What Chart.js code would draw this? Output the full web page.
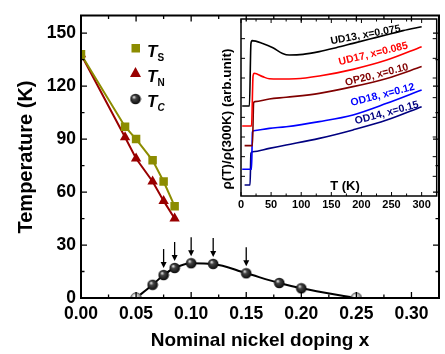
<!DOCTYPE html>
<html><head><meta charset="utf-8">
<script src="https://cdn.jsdelivr.net/npm/chart.js@4"></script>
<style>
html,body{margin:0;padding:0;background:#fff;}
#wrap{position:relative;width:445px;height:354px;}
#main{position:absolute;left:0;top:0;}
#inset{position:absolute;left:215px;top:10px;}
</style></head><body>
<div id="wrap"><canvas id="main" width="445" height="354"></canvas><canvas id="inset" width="225" height="205"></canvas></div>
<script>
// ---------- main chart data ----------
const dopingTs = [0, 0.04, 0.05, 0.065, 0.075, 0.085];
const tempTs   = [138, 97, 90, 78, 66, 52];
const dopingTN = [0, 0.04, 0.05, 0.065, 0.075, 0.085];
const tempTN   = [138, 91, 79, 66, 55, 45];
const dopingTc = [0.05, 0.065, 0.075, 0.085, 0.10, 0.12, 0.15, 0.18, 0.20, 0.25];
const tempTc   = [0, 7.5, 13, 17, 19.7, 19.3, 14, 8.5, 5.5, 0];
const openTc   = [true, false, false, false, false, false, false, false, false, true];
const arrowDoping = [0.075, 0.085, 0.10, 0.12, 0.15];
const xTicksMain = [0, 0.05, 0.10, 0.15, 0.20, 0.25, 0.30];
const xMinorMain = [0.025, 0.075, 0.125, 0.175, 0.225, 0.275];
const yTicksMain = [0, 30, 60, 90, 120, 150];
const yMinorMain = [15, 45, 75, 105, 135];

// ---------- inset data ----------
const T_UD13 = [2, 14, 16.5, 18.5, 36, 53, 69, 80, 103, 130, 158, 186, 214, 242, 269, 300];
const R_UD13 = [4.58, 4.58, 7.75, 7.9, 7.76, 7.54, 7.25, 7.17, 7.2, 7.34, 7.54, 7.76, 7.98, 8.2, 8.41, 8.61];
const T_UD17 = [2, 17.5, 20, 22, 36, 47, 64, 91, 130, 186, 242, 300];
const R_UD17 = [3.56, 3.56, 6.1, 6.24, 6.07, 5.96, 5.95, 5.96, 6.10, 6.44, 6.91, 7.59];
const T_OP20 = [6, 19, 21, 23, 47, 75, 130, 186, 242, 300];
const R_OP20 = [2.56, 2.56, 4.75, 4.8, 4.93, 5.02, 5.22, 5.56, 5.98, 6.58];
const T_OD18 = [2, 17.5, 19, 21, 47, 75, 130, 186, 242, 300];
const R_OD18 = [1.36, 1.36, 3.25, 3.32, 3.44, 3.52, 3.78, 4.12, 4.71, 5.39];
const T_OD14 = [6, 15, 16.5, 19.5, 47, 75, 130, 186, 242, 300];
const R_OD14 = [0.56, 0.56, 2.17, 2.25, 2.42, 2.59, 2.93, 3.36, 3.86, 4.54];
const xTicksInset = [0, 50, 100, 150, 200, 250, 300];
const xMinorInset = [25, 75, 125, 175, 225, 275];
const yTicksInset = [1, 2, 3, 4, 5, 6, 7, 8];
const insetLabels = ['UD13, x=0.075', 'UD17, x=0.085', 'OP20, x=0.10', 'OD18, x=0.12', 'OD14, x=0.15'];

const FONT = '"Liberation Sans", Arial, Helvetica, sans-serif';
const olive = '#8c8c00', darkred = '#990000';
const pts = (xs, ys) => xs.map((x, i) => ({x, y: ys[i]}));

function sphere(light) {
  const c = document.createElement('canvas'); c.width = c.height = 12;
  const g = c.getContext('2d');
  const grd = g.createRadialGradient(4.3, 4.0, 0.3, 6, 6, 6);
  if (light) { grd.addColorStop(0, '#ffffff'); grd.addColorStop(0.55, '#b0b0b0'); grd.addColorStop(1, '#606060'); }
  else { grd.addColorStop(0, '#e8e8e8'); grd.addColorStop(0.3, '#444'); grd.addColorStop(1, '#000'); }
  g.fillStyle = grd; g.beginPath(); g.arc(6, 6, 5.3, 0, 2 * Math.PI); g.fill();
  if (light) { g.strokeStyle = '#555'; g.lineWidth = 0.9; g.stroke(); }
  return c;
}
const sphDark = sphere(false), sphLight = sphere(true);

function frameTicks(chart, o) {
  const {ctx, chartArea: a, scales: {x, y}} = chart;
  ctx.save();
  ctx.strokeStyle = '#000';
  ctx.lineWidth = o.tickW;
  ctx.beginPath();
  const xt = (v, L) => { const p = x.getPixelForValue(v); ctx.moveTo(p, a.bottom); ctx.lineTo(p, a.bottom - L); ctx.moveTo(p, a.top); ctx.lineTo(p, a.top + L); };
  const yt = (v, L) => { const p = y.getPixelForValue(v); ctx.moveTo(a.left, p); ctx.lineTo(a.left + L, p); ctx.moveTo(a.right, p); ctx.lineTo(a.right - L, p); };
  o.xMajor.forEach(v => xt(v, o.maj)); o.xMinor.forEach(v => xt(v, o.min));
  o.yMajor.forEach(v => yt(v, o.maj)); o.yMinor.forEach(v => yt(v, o.min));
  ctx.stroke();
  ctx.lineWidth = o.frame;
  ctx.strokeRect(a.left, a.top, a.right - a.left, a.bottom - a.top);
  ctx.restore();
}

const mainDeco = {
  id: 'mainDeco',
  afterDraw(chart) {
    const {ctx, scales: {x, y}} = chart;
    frameTicks(chart, {tickW: 1.3, frame: 2, maj: 6, min: 3.5, xMajor: xTicksMain, xMinor: xMinorMain, yMajor: yTicksMain, yMinor: yMinorMain});
    ctx.save();
    // arrows
    ctx.strokeStyle = '#000'; ctx.fillStyle = '#000'; ctx.lineWidth = 1.3;
    arrowDoping.forEach(d => {
      const i = dopingTc.indexOf(d);
      const px = x.getPixelForValue(d), tip = y.getPixelForValue(tempTc[i]) - 7;
      ctx.beginPath(); ctx.moveTo(px, tip - 19); ctx.lineTo(px, tip - 4); ctx.stroke();
      ctx.beginPath(); ctx.moveTo(px - 3, tip - 6); ctx.lineTo(px + 3, tip - 6); ctx.lineTo(px, tip); ctx.closePath(); ctx.fill();
    });
    // axis titles
    ctx.fillStyle = '#000';
    ctx.font = 'bold 19px ' + FONT; ctx.textAlign = 'center'; ctx.textBaseline = 'middle';
    ctx.fillText('Nominal nickel doping x', 260, 341);
    ctx.save(); ctx.translate(26, 157); ctx.rotate(-Math.PI / 2);
    ctx.font = 'bold 20px ' + FONT; ctx.fillText('Temperature (K)', 0, 0); ctx.restore();
    // legend
    ctx.fillStyle = olive; ctx.fillRect(131.5, 44, 8.5, 8.5);
    ctx.fillStyle = darkred; ctx.beginPath(); ctx.moveTo(135.5, 67); ctx.lineTo(130, 77); ctx.lineTo(141, 77); ctx.closePath(); ctx.fill();
    ctx.drawImage(sphDark, 129.5, 93);
    ctx.fillStyle = '#000'; ctx.textAlign = 'left'; ctx.textBaseline = 'alphabetic';
    const subs = [['S', 57, false], ['N', 82, false], ['C', 107, true]];
    subs.forEach(([s, b, it]) => {
      ctx.font = 'italic bold 17px ' + FONT; ctx.fillText('T', 147, b);
      const w = ctx.measureText('T').width;
      ctx.font = (it ? 'italic ' : '') + 'bold 10px ' + FONT; ctx.fillText(s, 147 + w, b + 4);
    });
    ctx.restore();
  }
};

const tickFontMain = {family: FONT, size: 17.5, weight: 'bold'};

new Chart(document.getElementById('main'), {
  type: 'scatter',
  data: {
    datasets: [
      {label: 'Ts', data: pts(dopingTs, tempTs), showLine: true, borderColor: olive, backgroundColor: olive, borderWidth: 2, pointStyle: 'rect', pointRadius: 6, pointBorderWidth: 0},
      {label: 'TN', data: pts(dopingTN, tempTN), showLine: true, borderColor: darkred, backgroundColor: darkred, borderWidth: 2, pointStyle: 'triangle', pointRadius: 6, pointBorderWidth: 0},
      {label: 'Tc', data: pts(dopingTc, tempTc), showLine: true, borderColor: '#000', borderWidth: 2, cubicInterpolationMode: 'monotone', pointStyle: openTc.map(o => o ? sphLight : sphDark), clip: {left: 6, top: 6, right: 6, bottom: 1}}
    ]
  },
  options: {
    responsive: false, animation: false, events: [],
    layout: {padding: {top: 6, right: 3, left: 0, bottom: 0}},
    plugins: {legend: {display: false}, tooltip: {enabled: false}},
    scales: {
      x: {type: 'linear', min: 0, max: 0.325,
        afterBuildTicks: s => { s.ticks = xTicksMain.map(v => ({value: v})); },
        afterFit: s => { s.height = 56; },
        grid: {display: false, drawTicks: false}, border: {display: false},
        ticks: {autoSkip: false, maxRotation: 0, padding: 6, color: '#000', font: tickFontMain, callback: v => Number(v).toFixed(2)}},
      y: {type: 'linear', min: 0, max: 160,
        afterBuildTicks: s => { s.ticks = yTicksMain.map(v => ({value: v})); },
        afterFit: s => { s.width = 81; },
        grid: {display: false, drawTicks: false}, border: {display: false},
        ticks: {autoSkip: false, padding: 5, color: '#000', font: tickFontMain}}
    }
  },
  plugins: [mainDeco]
});

// ---------- inset ----------
const insetDeco = {
  id: 'insetDeco',
  afterDraw(chart) {
    const {ctx} = chart;
    frameTicks(chart, {tickW: 1, frame: 1.5, maj: 4, min: 2.5, xMajor: xTicksInset, xMinor: xMinorInset, yMajor: yTicksInset, yMinor: []});
    ctx.save();
    ctx.fillStyle = '#000'; ctx.textAlign = 'center'; ctx.textBaseline = 'middle';
    ctx.font = 'bold 13px ' + FONT; ctx.fillText('T (K)', 130, 176);
    ctx.save(); ctx.translate(12, 109); ctx.rotate(-Math.PI / 2);
    ctx.font = 'bold 13.5px ' + FONT; ctx.fillText('\u03C1(T)/\u03C1(300K) (arb.unit)', 0, 0); ctx.restore();
    const lab = [[151, 27.8, -10.5], [159, 46.7, -13.8], [162.5, 67.8, -14.4], [168.3, 87.8, -14.5], [172.5, 105.8, -15]];
    ctx.textBaseline = 'alphabetic'; ctx.font = 'bold 10.5px ' + FONT;
    lab.forEach(([lx, ly, ang], i) => {
      ctx.save(); ctx.translate(lx, ly); ctx.rotate(ang * Math.PI / 180);
      ctx.fillStyle = chart.data.datasets[i].borderColor; ctx.fillText(insetLabels[i], 0, 0); ctx.restore();
    });
    ctx.restore();
  }
};
const insetCols = ['#000000', '#ff0000', '#800000', '#0000ff', '#000080'];
const insetT = [T_UD13, T_UD17, T_OP20, T_OD18, T_OD14];
const insetR = [R_UD13, R_UD17, R_OP20, R_OD18, R_OD14];

new Chart(document.getElementById('inset'), {
  type: 'scatter',
  data: {
    datasets: insetLabels.map((l, i) => ({label: l, data: pts(insetT[i], insetR[i]), showLine: true, borderColor: insetCols[i], borderWidth: 1.6, pointRadius: 0, cubicInterpolationMode: 'monotone'}))
  },
  options: {
    responsive: false, animation: false, events: [],
    layout: {padding: {top: 9, right: 3.3, left: 0, bottom: 0}},
    plugins: {legend: {display: false}, tooltip: {enabled: false}},
    scales: {
      x: {type: 'linear', min: 0, max: 325,
        afterBuildTicks: s => { s.ticks = xTicksInset.map(v => ({value: v})); },
        afterFit: s => { s.height = 19; },
        grid: {display: false, drawTicks: false}, border: {display: false},
        ticks: {autoSkip: false, maxRotation: 0, padding: 2, color: '#000', font: {family: FONT, size: 11, weight: 'bold'}}},
      y: {type: 'linear', min: 0, max: 9,
        afterFit: s => { s.width = 26; },
        grid: {display: false, drawTicks: false}, border: {display: false},
        ticks: {display: false}}
    }
  },
  plugins: [insetDeco]
});
</script>
</body></html>
